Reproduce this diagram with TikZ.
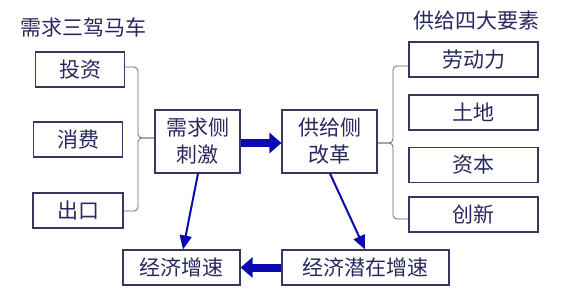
\documentclass[tikz,border=0pt]{standalone}
\usepackage{fontspec}
\newfontfamily\cjk{Noto Sans CJK SC}
\usetikzlibrary{arrows.meta,calc}
\definecolor{bordc}{RGB}{55,55,95}
\definecolor{textc}{RGB}{40,40,95}
\definecolor{arrc}{RGB}{10,10,175}
\definecolor{brc}{RGB}{100,100,135}
\begin{document}
\begin{tikzpicture}[x=1pt,y=-1pt,
  box/.style={draw=bordc,line width=1.1pt,minimum height=35pt,inner sep=0pt,
    font=\cjk\fontsize{21}{27}\selectfont,text=textc,align=center},
  ttl/.style={font=\cjk\fontsize{21}{24}\selectfont,text=textc,inner sep=0pt},
  brk/.style={draw=brc,line width=0.8pt,rounded corners=4pt},
  thin/.style={draw=arrc,line width=2pt,-{Triangle[width=12pt,length=14pt]}},
  thick/.style={draw=arrc,line width=8pt,-{Triangle[width=20pt,length=12pt]}}]
\useasboundingbox (0,0) rectangle (565,292);
\node[ttl] (t1) at (83,27) {需求三驾马车};
\node[ttl] (t2) at (476,21) {供给四大要素};
\node[box,minimum width=89pt] (tz) at (80,69.5) {投资};
\node[box,minimum width=89pt] (xf) at (78,139.5) {消费};
\node[box,minimum width=90pt] (ck) at (78,210.5) {出口};
\node[box,minimum width=85pt,minimum height=63pt] (xq) at (197.5,141.5) {需求侧\\刺激};
\node[box,minimum width=95pt,minimum height=63pt] (gj) at (329.5,141.5) {供给侧\\改革};
\node[box,minimum width=129pt] (ld) at (473.5,59.5) {劳动力};
\node[box,minimum width=129pt] (td) at (473.5,112.5) {土地};
\node[box,minimum width=129pt] (zb) at (473.5,165) {资本};
\node[box,minimum width=129pt] (cx) at (473.5,214.5) {创新};
\node[box,minimum width=117pt] (zs) at (181.5,267.5) {经济增速};
\node[box,minimum width=167pt] (qz) at (365.5,267.5) {经济潜在增速};
% left bracket
\coordinate (lt) at ($(tz.east)+(0,-2.5)$);
\coordinate (lb) at ($(ck.east)+(0,0.5)$);
\coordinate (lm) at (138,138);
\draw[brk] (lt) -| (lm) -- (lm-|xq.west);
\draw[brk] (lb) -| (lm) -- (lm-|xq.west);
% right bracket
\coordinate (rt) at ($(ld.west)+(0,6.5)$);
\coordinate (rb) at ($(cx.west)+(0,4.5)$);
\coordinate (rm) at (393,143);
\draw[brk] (rt) -| (rm) -- (rm-|gj.east);
\draw[brk] (rb) -| (rm) -- (rm-|gj.east);
% arrows
\draw[thick] (xq.east|-0,143) -- (gj.west|-0,143);
\draw[thick] (qz.west) -- (zs.east);
\draw[thin] ($(xq.south)+(0.5,0)$) -- ($(zs.north)+(1.5,0)$);
\draw[thin] ($(gj.south)+(0.5,0)$) -- ($(qz.north)+(-0.5,0)$);
\end{tikzpicture}
\end{document}
